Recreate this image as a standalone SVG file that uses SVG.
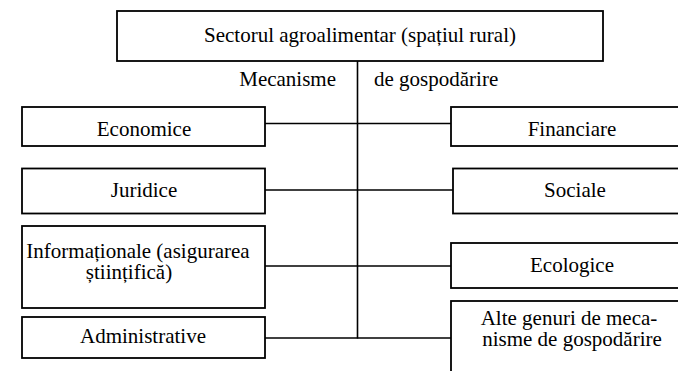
<svg xmlns="http://www.w3.org/2000/svg" width="678" height="371" viewBox="0 0 678 371">
<style>
.box{fill:#fff;stroke:#000;stroke-width:1.8}
.t{font-family:'Liberation Serif','Times New Roman',Times,'DejaVu Serif',serif;font-size:21px;fill:#000;text-anchor:middle}
.s{text-anchor:start}
.e{text-anchor:end}
.l{fill:none;stroke:#000;stroke-width:1.6}
</style>
<rect width="678" height="371" fill="#fff"/>
<g id="connectors">
<line class="l" x1="357.5" y1="61" x2="357.5" y2="338.5"/>
<line class="l" x1="265" y1="123.5" x2="451" y2="123.5"/>
<line class="l" x1="265" y1="190" x2="453" y2="190"/>
<line class="l" x1="265" y1="266" x2="451" y2="266"/>
<line class="l" x1="265" y1="338" x2="451" y2="338"/>
</g>
<g id="labels">
<text class="t e" x="336" y="86">Mecanisme</text>
<text class="t s" x="374" y="86">de gospodărire</text>
</g>
<g id="root">
<rect class="box" x="117" y="11" width="486" height="50"/>
<text class="t" x="360" y="42">Sectorul agroalimentar (spațiul rural)</text>
</g>
<g id="economice">
<rect class="box" x="22" y="107" width="243" height="39"/>
<text class="t" x="144" y="136">Economice</text>
</g>
<g id="juridice">
<rect class="box" x="22" y="168.5" width="243" height="45"/>
<text class="t" x="144" y="197">Juridice</text>
</g>
<g id="informationale">
<rect class="box" x="22" y="226" width="243" height="82"/>
<text class="t" x="138" y="258">Informaționale (asigurarea</text>
<text class="t" x="129" y="279">științifică)</text>
</g>
<g id="administrative">
<rect class="box" x="22" y="317" width="243" height="41"/>
<text class="t" x="143" y="343">Administrative</text>
</g>
<g id="financiare">
<rect class="box" x="451" y="107" width="240" height="39"/>
<text class="t" x="572" y="136">Financiare</text>
</g>
<g id="sociale">
<rect class="box" x="453" y="168.5" width="240" height="45"/>
<text class="t" x="575" y="197">Sociale</text>
</g>
<g id="ecologice">
<rect class="box" x="451" y="243" width="240" height="45"/>
<text class="t" x="572" y="272">Ecologice</text>
</g>
<g id="alte">
<rect class="box" x="451" y="301" width="240" height="80"/>
<text class="t" x="569" y="325">Alte genuri de meca-</text>
<text class="t" x="572" y="346">nisme de gospodărire</text>
</g>
</svg>
